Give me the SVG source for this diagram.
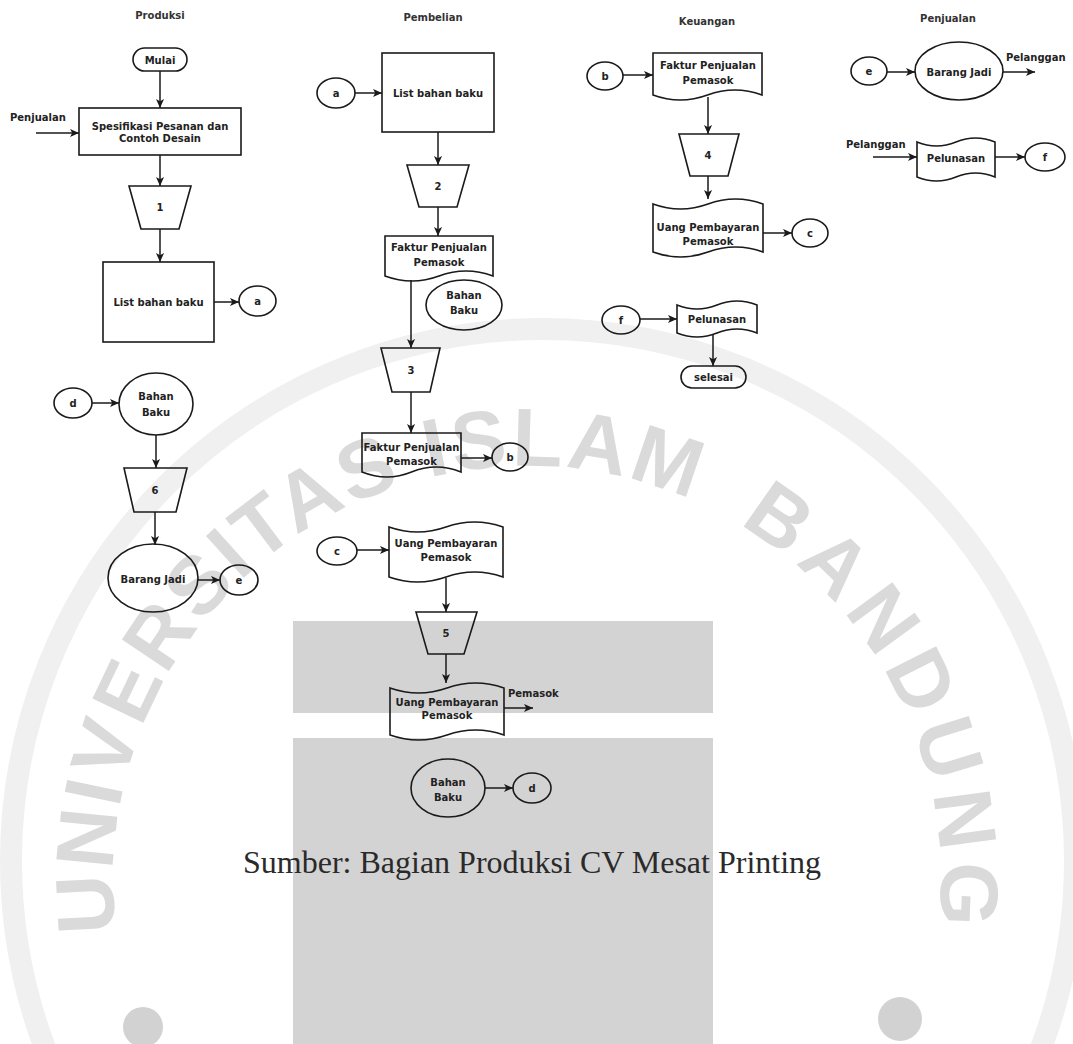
<svg xmlns="http://www.w3.org/2000/svg" xmlns:xlink="http://www.w3.org/1999/xlink" width="1073" height="1044" viewBox="0 0 1073 1044">
  <style>
    .shape { fill: none; stroke: #1a1a1a; stroke-width: 1.6; }
    .edge { fill: none; stroke: #1a1a1a; stroke-width: 1.5; marker-end: url(#arrow); }
    .t { font-family: "DejaVu Sans", Verdana, sans-serif; font-size: 10px; font-weight: bold; fill: #222; text-anchor: middle; }
    .ts { font-family: "DejaVu Sans", Verdana, sans-serif; font-size: 10px; font-weight: bold; fill: #222; text-anchor: start; }
    .title { font-family: "DejaVu Sans", Verdana, sans-serif; font-size: 10px; font-weight: bold; fill: #333; text-anchor: middle; }
    .caption { font-family: "Liberation Serif", "Times New Roman", serif; font-size: 32px; fill: #2a2a2a; }
    .wm-letters { font-family: "Liberation Sans", Arial, sans-serif; font-size: 82px; font-weight: bold; fill: #dadada; }
  </style>
  <defs>
    <marker id="arrow" viewBox="0 0 10 10" refX="10" refY="5" markerWidth="9" markerHeight="9" markerUnits="userSpaceOnUse" orient="auto">
      <path d="M0,0.5 L10,5 L0,9.5 L2.5,5 Z" fill="#1a1a1a"/>
    </marker>
    <path id="wmArc" d="M 138 1021.6 A 414 414 0 1 1 916 1021.6" fill="none"/>
  </defs>

  <rect width="1073" height="1044" fill="#ffffff"/>

  <!-- background emblem -->
  <g id="emblem">
    <circle cx="543" cy="861" r="532" fill="none" stroke="#f0f0f0" stroke-width="22"/>
    <text class="wm-letters" letter-spacing="3"><textPath xlink:href="#wmArc" startOffset="92">UNIVERSITAS ISLAM <tspan dx="25 6 6 6 6 6 6">BANDUNG</tspan></textPath></text>
    <circle cx="143" cy="1027" r="20" fill="#d2d2d2"/>
    <circle cx="900" cy="1019" r="22" fill="#d2d2d2"/>
    <rect x="293" y="621" width="420" height="92" fill="#d3d3d3"/>
    <rect x="293" y="738" width="420" height="306" fill="#d3d3d3"/>
  </g>

  <!-- lane titles -->
  <g id="titles">
    <text class="title" x="160" y="19">Produksi</text>
    <text class="title" x="433" y="21">Pembelian</text>
    <text class="title" x="707" y="25">Keuangan</text>
    <text class="title" x="948" y="22">Penjualan</text>
  </g>

  <!-- connectors -->
  <g id="connectors">
    <!-- Produksi -->
    <path class="edge" d="M160,71 V108"/>
    <path class="edge" d="M36,133 H79"/>
    <path class="edge" d="M160,155 V186"/>
    <path class="edge" d="M160,229 V262"/>
    <path class="edge" d="M214,302 H239"/>
    <path class="edge" d="M92,403 H119"/>
    <path class="edge" d="M156,435 V468"/>
    <path class="edge" d="M155,512 V545"/>
    <path class="edge" d="M198,580 H220"/>
    <!-- Pembelian -->
    <path class="edge" d="M355,93 H382"/>
    <path class="edge" d="M438,132 V165"/>
    <path class="edge" d="M438,207 V236"/>
    <path class="edge" d="M411,280 V348"/>
    <path class="edge" d="M411,392 V433"/>
    <path class="edge" d="M461,458 H492"/>
    <path class="edge" d="M357,550 H389"/>
    <path class="edge" d="M446,578 V612"/>
    <path class="edge" d="M446,654 V683"/>
    <path class="edge" d="M504,708 H533"/>
    <path class="edge" d="M485,788 H513"/>
    <!-- Keuangan -->
    <path class="edge" d="M623,75 H653"/>
    <path class="edge" d="M708,97 V134"/>
    <path class="edge" d="M708,176 V199"/>
    <path class="edge" d="M763,233 H792"/>
    <path class="edge" d="M640,319 H677"/>
    <path class="edge" d="M713,335 V366"/>
    <!-- Penjualan -->
    <path class="edge" d="M887,72 H915"/>
    <path class="edge" d="M1003,72 H1035"/>
    <path class="edge" d="M873,157 H917"/>
    <path class="edge" d="M995,157 H1025"/>
  </g>

  <!-- edge labels -->
  <g id="edge-labels">
    <text class="ts" x="10" y="121">Penjualan</text>
    <text class="ts" x="508" y="697">Pemasok</text>
    <text class="ts" x="1006" y="61">Pelanggan</text>
    <text class="ts" x="846" y="148">Pelanggan</text>
  </g>

  <!-- ===== Produksi ===== -->
  <g id="p-mulai">
    <rect class="shape" x="133" y="48" width="54" height="23" rx="11.5"/>
    <text class="t" x="160" y="63.5">Mulai</text>
  </g>
  <g id="p-spesifikasi">
    <rect class="shape" x="79" y="108" width="162" height="47"/>
    <text class="t" x="160" y="129.5">Spesifikasi Pesanan dan</text>
    <text class="t" x="160" y="142">Contoh Desain</text>
  </g>
  <g id="p-proc1">
    <path class="shape" d="M129,186 H191 L179,229 H141 Z"/>
    <text class="t" x="160" y="211">1</text>
  </g>
  <g id="p-list">
    <rect class="shape" x="103" y="262" width="111" height="80"/>
    <text class="t" x="158.5" y="305.5">List bahan baku</text>
  </g>
  <g id="p-conn-a">
    <ellipse class="shape" cx="257.5" cy="301" rx="18.5" ry="15"/>
    <text class="t" x="257.5" y="305">a</text>
  </g>
  <g id="p-conn-d">
    <ellipse class="shape" cx="73" cy="403" rx="19" ry="15"/>
    <text class="t" x="73" y="407">d</text>
  </g>
  <g id="p-bahan">
    <ellipse class="shape" cx="156" cy="404" rx="37" ry="31"/>
    <text class="t" x="156" y="399.5">Bahan</text>
    <text class="t" x="156" y="415.5">Baku</text>
  </g>
  <g id="p-proc6">
    <path class="shape" d="M124,468 H187 L176,512 H134 Z"/>
    <text class="t" x="155" y="493.5">6</text>
  </g>
  <g id="p-barang">
    <ellipse class="shape" cx="153" cy="578" rx="45" ry="34"/>
    <text class="t" x="153" y="583">Barang Jadi</text>
  </g>
  <g id="p-conn-e">
    <ellipse class="shape" cx="239" cy="580" rx="19" ry="15"/>
    <text class="t" x="239" y="584">e</text>
  </g>

  <!-- ===== Pembelian ===== -->
  <g id="b-conn-a">
    <ellipse class="shape" cx="336" cy="93" rx="19" ry="15"/>
    <text class="t" x="336" y="97">a</text>
  </g>
  <g id="b-list">
    <rect class="shape" x="382" y="53" width="112" height="79"/>
    <text class="t" x="438" y="96.5">List bahan baku</text>
  </g>
  <g id="b-proc2">
    <path class="shape" d="M407,165 H469 L457,207 H419 Z"/>
    <text class="t" x="438" y="190">2</text>
  </g>
  <g id="b-faktur1">
    <path class="shape" d="M385,236 H493 V276 Q466,266 439,276 Q412,286 385,276 Z"/>
    <text class="t" x="439" y="250.5">Faktur Penjualan</text>
    <text class="t" x="439" y="265.5">Pemasok</text>
  </g>
  <g id="b-bahan1">
    <ellipse class="shape" cx="464" cy="305" rx="38" ry="25"/>
    <text class="t" x="464" y="298.5">Bahan</text>
    <text class="t" x="464" y="313.5">Baku</text>
  </g>
  <g id="b-proc3">
    <path class="shape" d="M381,348 H440 L430,392 H392 Z"/>
    <text class="t" x="411" y="373.5">3</text>
  </g>
  <g id="b-faktur2">
    <path class="shape" d="M362,433 H461 V472 Q436,462 411.5,472 Q387,482 362,472 Z"/>
    <text class="t" x="411.5" y="450.5">Faktur Penjualan</text>
    <text class="t" x="411.5" y="464.5">Pemasok</text>
  </g>
  <g id="b-conn-b">
    <ellipse class="shape" cx="510" cy="457" rx="18" ry="14"/>
    <text class="t" x="510" y="461">b</text>
  </g>
  <g id="b-conn-c">
    <ellipse class="shape" cx="337" cy="551" rx="20" ry="14"/>
    <text class="t" x="337" y="555">c</text>
  </g>
  <g id="b-uang1">
    <path class="shape" d="M389,527 Q417.5,537 446,527 Q474.5,517 503,527 V577 Q474.5,567 446,577 Q417.5,587 389,577 Z"/>
    <text class="t" x="446" y="546.5">Uang Pembayaran</text>
    <text class="t" x="446" y="560.5">Pemasok</text>
  </g>
  <g id="b-proc5">
    <path class="shape" d="M416,612 H477 L464,654 H428 Z"/>
    <text class="t" x="446" y="636.5">5</text>
  </g>
  <g id="b-uang2">
    <path class="shape" d="M390,688 Q418.5,698 447,688 Q475.5,678 504,688 V735 Q475.5,725 447,735 Q418.5,745 390,735 Z"/>
    <text class="t" x="447" y="705.5">Uang Pembayaran</text>
    <text class="t" x="447" y="718.5">Pemasok</text>
  </g>
  <g id="b-bahan2">
    <ellipse class="shape" cx="448" cy="788" rx="37" ry="29"/>
    <text class="t" x="448" y="785.5">Bahan</text>
    <text class="t" x="448" y="800.5">Baku</text>
  </g>
  <g id="b-conn-d">
    <ellipse class="shape" cx="532" cy="788" rx="19" ry="15"/>
    <text class="t" x="532" y="792">d</text>
  </g>

  <!-- ===== Keuangan ===== -->
  <g id="k-conn-b">
    <ellipse class="shape" cx="605" cy="76" rx="18" ry="14"/>
    <text class="t" x="605" y="80">b</text>
  </g>
  <g id="k-faktur">
    <path class="shape" d="M653,53 H762 V95 Q734.75,85 707.5,95 Q680.25,105 653,95 Z"/>
    <text class="t" x="708" y="68.5">Faktur Penjualan</text>
    <text class="t" x="708" y="83.5">Pemasok</text>
  </g>
  <g id="k-proc4">
    <path class="shape" d="M679,134 H739 L728,176 H690 Z"/>
    <text class="t" x="708" y="158.5">4</text>
  </g>
  <g id="k-uang">
    <path class="shape" d="M653,204 Q680.5,214 708,204 Q735.5,194 763,204 V252 Q735.5,242 708,252 Q680.5,262 653,252 Z"/>
    <text class="t" x="708" y="230.5">Uang Pembayaran</text>
    <text class="t" x="708" y="244.5">Pemasok</text>
  </g>
  <g id="k-conn-c">
    <ellipse class="shape" cx="810" cy="233" rx="18" ry="14"/>
    <text class="t" x="810" y="237">c</text>
  </g>
  <g id="k-conn-f">
    <ellipse class="shape" cx="621" cy="320" rx="19" ry="14"/>
    <text class="t" x="621" y="324">f</text>
  </g>
  <g id="k-pelunasan">
    <path class="shape" d="M677,305 Q697,313 717,305 Q737,297 757,305 V333 Q737,325 717,333 Q697,341 677,333 Z"/>
    <text class="t" x="717" y="322.5">Pelunasan</text>
  </g>
  <g id="k-selesai">
    <rect class="shape" x="681" y="366" width="65" height="22" rx="11"/>
    <text class="t" x="713.5" y="380.5">selesai</text>
  </g>

  <!-- ===== Penjualan ===== -->
  <g id="j-conn-e">
    <ellipse class="shape" cx="869" cy="71" rx="18" ry="14"/>
    <text class="t" x="869" y="75">e</text>
  </g>
  <g id="j-barang">
    <ellipse class="shape" cx="959" cy="71" rx="44" ry="29"/>
    <text class="t" x="959" y="76">Barang Jadi</text>
  </g>
  <g id="j-pelunasan">
    <path class="shape" d="M917,142 Q936.5,150 956,142 Q975.5,134 995,142 V177 Q975.5,169 956,177 Q936.5,185 917,177 Z"/>
    <text class="t" x="956" y="161.5">Pelunasan</text>
  </g>
  <g id="j-conn-f">
    <ellipse class="shape" cx="1045" cy="157" rx="20" ry="14"/>
    <text class="t" x="1045" y="161">f</text>
  </g>

  <!-- source line -->
  <text class="caption" x="243" y="873">Sumber: Bagian Produksi CV Mesat Printing</text>
</svg>
